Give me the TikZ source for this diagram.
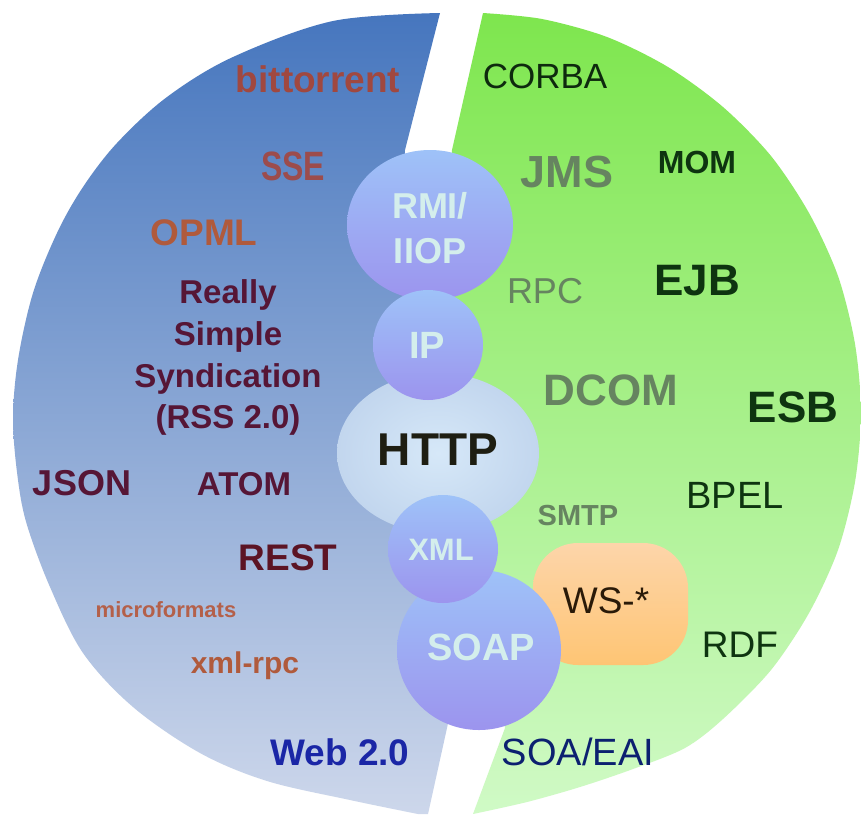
\documentclass[tikz,border=0pt]{standalone}
\usepackage{fontspec}
\setmainfont{Liberation Sans}
\usetikzlibrary{shapes.geometric}

% palette
\definecolor{blueTop}{HTML}{4676BE}
\definecolor{blueMid}{HTML}{7E9FD4}
\definecolor{blueBot}{HTML}{CDD7EB}
\definecolor{greenTop}{HTML}{7EE64E}
\definecolor{greenMid}{HTML}{A8F286}
\definecolor{greenBot}{HTML}{D0FAC6}
\definecolor{bubTop}{HTML}{9EC2F8}
\definecolor{bubBot}{HTML}{9C94EE}
\definecolor{httpIn}{HTML}{D6E8F8}
\definecolor{httpOut}{HTML}{C2D6EE}
\definecolor{wsTop}{HTML}{FDD5AA}
\definecolor{wsBot}{HTML}{FEC574}
\definecolor{bubText}{HTML}{D4EEEC}
\definecolor{brickRed}{HTML}{A04840}
\definecolor{sseRed}{HTML}{9C4C4C}
\definecolor{opmlRed}{HTML}{B05A3C}
\definecolor{maroon}{HTML}{561636}
\definecolor{restRed}{HTML}{5C1424}
\definecolor{rustLight}{HTML}{B4604A}
\definecolor{webBlue}{HTML}{1A26A6}
\definecolor{httpInk}{HTML}{1E1E12}
\definecolor{wsInk}{HTML}{2A1A08}
\definecolor{darkGreen}{HTML}{0E3410}
\definecolor{corbaInk}{HTML}{0E2A0E}
\definecolor{greyGreen}{HTML}{668460}
\definecolor{soaBlue}{HTML}{0C2070}

\newcommand\pxfont[1]{\fontsize{#1}{#1}\selectfont}

\tikzset{
  lab/.style={anchor=base, inner sep=0pt, outer sep=0pt},
  bubble/.style={top color=bubTop, bottom color=bubBot},
}

\begin{document}
\begin{tikzpicture}[x=1pt,y=-1pt]
\useasboundingbox (0,0) rectangle (861,814);
\fill[white] (0,0) rectangle (861,814);

% Web 2.0 half
\shade[top color=blueTop, middle color=blueMid, bottom color=blueBot]
  plot[smooth, tension=0.55] coordinates {(440,13) (333,21) (233,57) (167,97) (117,143) (83,187) (57,233) (33,293) (18,360) (13,420) (18,480) (27,525) (50,587) (83,653) (133,707) (200,753) (267,781) (350,800) (418,814)}
  -- (428,814) -- (447,728) -- (455,690) -- (430,450) -- (400,250) -- (405,150) -- cycle;

% SOA/EAI half: elliptic outer rim, flattening towards the bottom
\shade[top color=greenTop, middle color=greenMid, bottom color=greenBot]
  plot[smooth, tension=0.5] coordinates {(483,13) (542,19) (607,37) (668,67) (723,107) (771,156) (809,213) (838,276) (855,344) (861,413) (855,482) (838,550) (809,613) (771,670) (723,719) (685,748) (633,769) (580,787) (527,802) (473,814)}
  -- (505,728) -- (500,700) -- (480,560) -- (470,450) -- (455,300) -- (445,250) -- (452,150) -- cycle;

% WS-* blob
\shade[top color=wsTop, bottom color=wsBot, rounded corners=45pt] (533,543) rectangle (688,665);

% protocol bubbles
\shade[inner color=httpIn, outer color=httpOut] (438,453) ellipse [x radius=101pt, y radius=80pt];
\shade[bubble] (430,225) ellipse [x radius=83pt, y radius=75pt];
\shade[bubble] (428,345) ellipse [x radius=55pt, y radius=55pt];
\shade[bubble] (479,650) ellipse [x radius=82pt, y radius=80pt];
\shade[bubble] (443,549) ellipse [x radius=55pt, y radius=54pt];

% Web 2.0 labels
\node[lab, text=brickRed, font=\pxfont{37}\bfseries] (bittorrent) at (318,92) {bittorrent};
\node[lab, text=sseRed, font=\pxfont{41}\bfseries, xscale=0.78] (sse) at (293,180) {SSE};
\node[lab, text=opmlRed, font=\pxfont{37}\bfseries] (opml) at (204,245) {OPML};
\node[lab, text=maroon, font=\pxfont{33}\bfseries] (rssA) at (228,303) {Really};
\node[lab, text=maroon, font=\pxfont{33}\bfseries] (rssB) at (228,345) {Simple};
\node[lab, text=maroon, font=\pxfont{33}\bfseries] (rssC) at (228,387) {Syndication};
\node[lab, text=maroon, font=\pxfont{33}\bfseries] (rssD) at (228,428) {(RSS 2.0)};
\node[lab, text=maroon, font=\pxfont{36}\bfseries] (json) at (82,495) {JSON};
\node[lab, text=maroon, font=\pxfont{33}\bfseries] (atom) at (244,495) {ATOM};
\node[lab, text=restRed, font=\pxfont{37}\bfseries] (rest) at (288,570) {REST};
\node[lab, text=rustLight, font=\pxfont{22}\bfseries] (micro) at (166,617) {microformats};
\node[lab, text=opmlRed, font=\pxfont{30}\bfseries] (xmlrpc) at (245,673) {xml-rpc};
\node[lab, text=webBlue, font=\pxfont{37}\bfseries] (web) at (340,765) {Web 2.0};

% bubble labels
\node[lab, text=bubText, font=\pxfont{36}\bfseries] (rmiA) at (430,218) {RMI/};
\node[lab, text=bubText, font=\pxfont{36}\bfseries] (rmiB) at (430,263) {IIOP};
\node[lab, text=bubText, font=\pxfont{38}\bfseries] (ip) at (427,358) {IP};
\node[lab, text=httpInk, font=\pxfont{46}\bfseries] (http) at (438,465) {HTTP};
\node[lab, text=bubText, font=\pxfont{31}\bfseries] (xml) at (441,560) {XML};
\node[lab, text=bubText, font=\pxfont{38}\bfseries] (soap) at (481,660) {SOAP};
\node[lab, text=wsInk, font=\pxfont{37}] (ws) at (606,613) {WS-*};

% SOA/EAI labels
\node[lab, text=corbaInk, font=\pxfont{35}] (corba) at (545,88) {CORBA};
\node[lab, text=greyGreen, font=\pxfont{45}\bfseries] (jms) at (567,187) {JMS};
\node[lab, text=darkGreen, font=\pxfont{32}\bfseries] (mom) at (697,173) {MOM};
\node[lab, text=greyGreen, font=\pxfont{36}] (rpc) at (545,303) {RPC};
\node[lab, text=darkGreen, font=\pxfont{44}\bfseries] (ejb) at (697,295) {EJB};
\node[lab, text=greyGreen, font=\pxfont{44}\bfseries] (dcom) at (611,405) {DCOM};
\node[lab, text=darkGreen, font=\pxfont{44}\bfseries] (esb) at (793,422) {ESB};
\node[lab, text=darkGreen, font=\pxfont{38}] (bpel) at (735,508) {BPEL};
\node[lab, text=greyGreen, font=\pxfont{29}\bfseries] (smtp) at (578,525) {SMTP};
\node[lab, text=darkGreen, font=\pxfont{37}] (rdf) at (740,657) {RDF};
\node[lab, text=soaBlue, font=\pxfont{38}] (soa) at (578,765) {SOA/EAI};
\end{tikzpicture}
\end{document}
